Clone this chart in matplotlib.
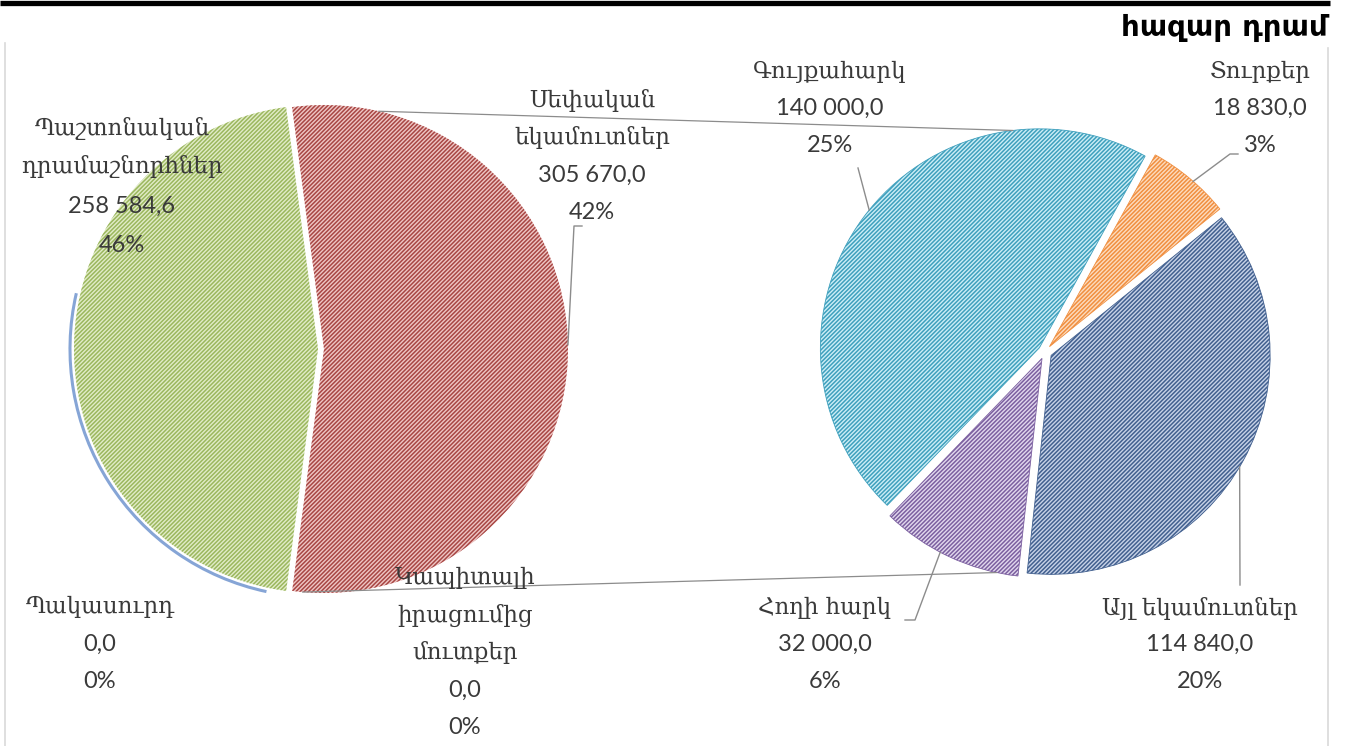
import matplotlib
matplotlib.use('Agg')
import matplotlib.pyplot as plt
import numpy as np
from matplotlib.patches import Arc

W, H = 1346, 746

# ---------------- data ----------------
main_names = ['Կապիտալի\nիրացումից\nմուտքեր', 'Պակասուրդ', 'Պաշտոնական\nդրամաշնորհներ', 'Սեփական\nեկամուտներ']
main_values = [0.0, 0.0, 258584.6, 305670.0]
main_value_text = ['0,0', '0,0', '258 584,6', '305 670,0']
main_pct = ['0%', '0%', '46%', '42%']

sub_names = ['Գույքահարկ', 'Տուրքեր', 'Այլ եկամուտներ', 'Հողի հարկ']
sub_values = [140000.0, 18830.0, 114840.0, 32000.0]
sub_value_text = ['140 000,0', '18 830,0', '114 840,0', '32 000,0']
sub_pct = ['25%', '3%', '20%', '6%']

unit_title = 'հազար դրամ'

# ---------------- style ----------------
main_face = ['#c9d8ee', '#c9d8ee', '#e2ecc8', '#efc6c5']
main_hatch = ['#4f81bd', '#4f81bd', '#9bb75e', '#a84744']
sub_face = ['#cdeef7', '#fddcbf', '#c8d3e8', '#e2d8ee']
sub_hatch = ['#3fa0bd', '#f08f40', '#42608f', '#7c60a0']
TXT = '#3a3a3a'
ARM = ['DejaVu Serif', 'DejaVu Sans']
NUM = ['Lato', 'DejaVu Sans']

plt.rcParams['hatch.linewidth'] = 1.1

fig = plt.figure(figsize=(W / 100, H / 100), dpi=100)
ax = fig.add_axes([0, 0, 1, 1])


def Y(y):  # pixel row -> data y
    return H - y


HATCH = '////////'

# ---------------- pies ----------------
main_center = (321, Y(349))
main_radius = 244
w_main, _ = ax.pie(main_values, center=main_center, radius=main_radius,
                   startangle=262.5, counterclock=False,
                   explode=[3, 3, 3, 3], colors=main_face,
                   wedgeprops=dict(linewidth=0))
for w, hc in zip(w_main, main_hatch):
    w.set_edgecolor(hc)
    w.set_hatch(HATCH)
    w.set_linewidth(0)

sub_center = (1045, Y(352))
sub_radius = 219
w_sub, _ = ax.pie(sub_values, center=sub_center, radius=sub_radius,
                  startangle=226, counterclock=False,
                  explode=[7, 7, 7, 7], colors=sub_face,
                  wedgeprops=dict(linewidth=0))
for w, hc in zip(w_sub, sub_hatch):
    w.set_edgecolor(hc)
    w.set_hatch(HATCH)
    w.set_linewidth(0.6)


def edge_point(w, ang):
    cx, cy = w.center
    a = np.deg2rad(ang)
    return cx + w.r * np.cos(a), cy + w.r * np.sin(a)


# zero-value slice outline (Պակասուրդ) along lower-left edge of the main pie
gw = w_main[2]
ax.add_patch(Arc(gw.center, 2 * (gw.r + 4), 2 * (gw.r + 4), theta1=167, theta2=258,
                 color='#86a5d6', lw=2.2))

# series lines between the pies
red = w_main[3]
p1 = edge_point(red, 77)
p2 = edge_point(w_sub[0], 97)
p3 = edge_point(red, -95)
p4 = edge_point(w_sub[3], -102)
ax.plot([p1[0], p2[0]], [p1[1], p2[1]], color='#8c8c8c', lw=0.9)
ax.plot([p3[0], p4[0]], [p3[1], p4[1]], color='#8c8c8c', lw=0.9)

# ---------------- labels ----------------
def block(x, y0, name, val, pct, gap=37.5, arm_size=16.5, num_size=17):
    lines = name.split('\n')
    y = y0
    for ln in lines:
        ax.text(x, Y(y), ln, ha='center', va='center', color=TXT,
                fontsize=arm_size, family=ARM)
        y += gap
    ax.text(x, Y(y), val, ha='center', va='center', color=TXT,
            fontsize=num_size, family=NUM)
    y += gap
    ax.text(x, Y(y), pct, ha='center', va='center', color=TXT,
            fontsize=num_size, family=NUM)


main_pos = [(465, 578), (100, 607), (122, 128), (592, 100)]
for (x, y0), n, v, p in zip(main_pos, main_names, main_value_text, main_pct):
    g = 39 if n.startswith('Պաշտ') else 37.5
    block(x, y0, n, v, p, gap=g)

sub_pos = [(830, 72), (1260, 72), (1200, 608), (825, 608)]
for (x, y0), n, v, p in zip(sub_pos, sub_names, sub_value_text, sub_pct):
    block(x, y0, n, v, p, gap=36.5)

# leader lines
LC = '#8c8c8c'
def leader(pts, lw=1.0):
    xs = [p[0] for p in pts]
    ys = [p[1] for p in pts]
    ax.plot(xs, ys, color=LC, lw=lw)

leader([(582, Y(226)), (574, Y(226)), edge_point(red, 1)])
leader([(858, Y(168)), edge_point(w_sub[0], 141)])
leader([(1238, Y(154)), (1230, Y(154)), edge_point(w_sub[1], 49)])
leader([(1240, Y(585)), edge_point(w_sub[2], -30.6)])
leader([(905, Y(620)), (915, Y(620)), edge_point(w_sub[3], -117.7)])

# ---------------- frame, title ----------------
ax.plot([0, 1330], [Y(2.5), Y(2.5)], color='black', lw=3.8, solid_capstyle='butt')
ax.plot([5, 5], [Y(43), Y(746)], color='#d9d9d9', lw=1.2)
ax.plot([1328, 1328], [Y(48), Y(746)], color='#d9d9d9', lw=1.2)
ax.text(1328, Y(28), unit_title, ha='right', va='center', color='black',
        fontsize=21, fontweight='bold', family=['DejaVu Sans'])

ax.set_xlim(0, W)
ax.set_ylim(0, H)
ax.set_aspect('auto')
ax.axis('off')
fig.savefig('out.png', dpi=100)
